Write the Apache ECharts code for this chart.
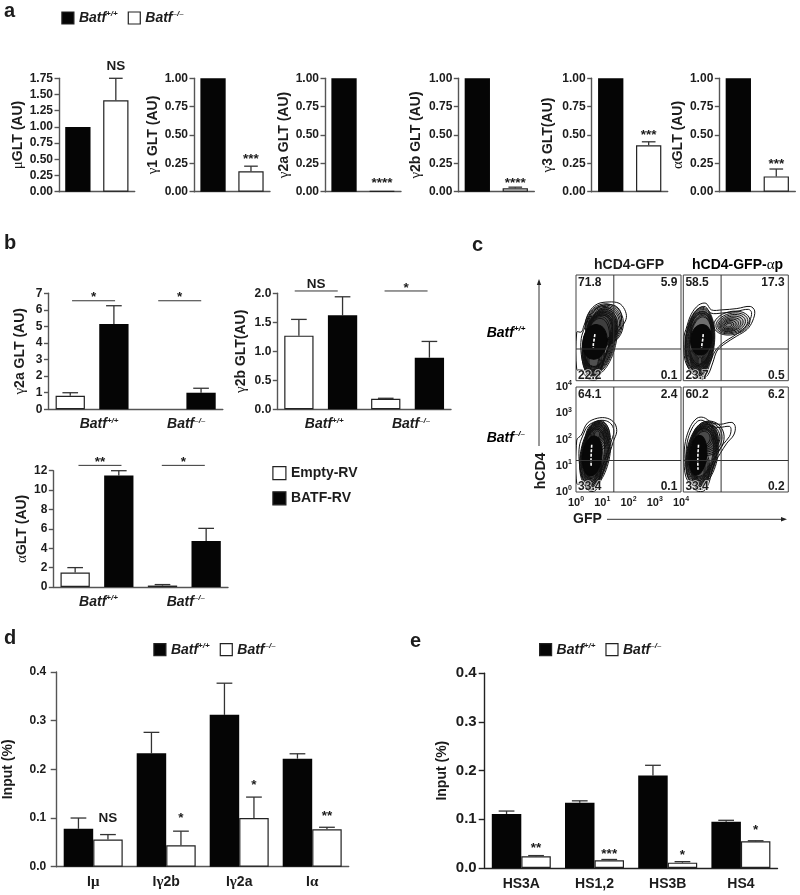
<!DOCTYPE html>
<html><head><meta charset="utf-8">
<style>html,body{margin:0;padding:0;background:#fff}#c{width:800px;height:895px}</style>
<script src="https://cdn.jsdelivr.net/npm/echarts@6/dist/echarts.min.js"></script>
</head><body><div id="c"></div>
<script>
// ---- data: panel a
const WT = 'Batf+/+', KO = 'Batf–/–', EMPTY = 'Empty-RV', BATF = 'BATF-RV';
const aTitles = [['μ','GLT (AU)'],['γ','1 GLT (AU)'],['γ','2a GLT (AU)'],['γ','2b GLT (AU)'],['γ','3 GLT(AU)'],['α','GLT (AU)']];
const aWT = [1,1,1,1,1,1];
const aKO = [1.41,0.18,0.005,0.03,0.41,0.135];
const aKOtop = [1.75,0.225,null,0.04,0.44,0.2];
const aSig = ['NS','***','****','****','***','***'];
const aSigLevel = [1.94,0.31,0.10,0.10,0.52,0.27];
const aMax = [1.75,1,1,1,1,1];
// ---- data: panel b
const bCats = [WT,KO];
const b1Empty = [0.82,null], b1Batf = [5.15,1.0], b1EmptyTop = [1.0,null], b1BatfTop = [6.25,1.27];
const b2Empty = [1.27,0.18], b2Batf = [1.62,0.89], b2EmptyTop = [1.55,0.19], b2BatfTop = [1.94,1.17];
const b3Empty = [1.5,0.15], b3Batf = [11.5,4.75], b3EmptyTop = [2.0,0.25], b3BatfTop = [12.0,6.05];
const b1Sig = ['*','*'], b2Sig = ['NS','*'], b3Sig = ['**','*'];
const b1SigLevel = [6.55,6.55], b2SigLevel = [2.04,2.04], b3SigLevel = [12.55,12.55];
// ---- data: panel c (decades of fluorescence; contours)
const cHeaders = [['hCD4-GFP','',''],['hCD4-GFP-','α','p']];
const cQuadrants = [['71.8','5.9','22.2','0.1'],['58.5','17.3','23.7','0.5'],['64.1','2.4','33.4','0.1'],['60.2','6.2','33.4','0.2']];
const cGate = [[1.44,1.20],[1.44,1.20],[1.44,1.20],[1.44,1.20]];
const cOutlinesA = [
 [[.30,2.07],[.50,2.60],[.81,2.90],[1.26,2.98],[1.64,2.93],[1.85,2.70],[1.92,2.39],[1.77,2.07],[1.51,1.75],[1.30,1.37],[1.13,.93],[.97,.42],[.81,.06],[.56,.03],[.37,.17],[.24,.42],[.03,.42],[.03,1.84],[.2,1.84]],
 [[.33,2.0],[.55,2.5],[.85,2.78],[1.25,2.88],[1.55,2.8],[1.72,2.55],[1.7,2.2],[1.5,1.85],[1.3,1.45],[1.1,.95],[.9,.35],[.72,.1],[.5,.12],[.33,.45],[.2,1.0],[.2,1.6]]];
const cNestA = [[1.08,2.12,.72,.80,18],[1.07,2.11,.68,.76,18],[1.06,2.10,.64,.72,18],[1.05,2.09,.60,.68,18],[1.03,2.07,.56,.64,18],[1.01,2.05,.53,.60,18],[.99,2.03,.50,.57,17],[.97,2.0,.47,.54,17],[.95,1.98,.44,.51,16],
 [.90,1.47,.62,1.33,13],[.89,1.48,.59,1.27,13],[.88,1.48,.57,1.22,13],[.87,1.48,.55,1.17,13],[.86,1.48,.53,1.12,12],[.85,1.48,.51,1.07,12],[.84,1.48,.49,1.02,12],[.82,1.47,.47,.97,11],[.80,1.45,.46,.92,10],
 [.70,.95,.38,.80,6],[.70,.92,.34,.73,6],[.69,.90,.30,.66,6],[.69,.87,.26,.58,6],[.68,.85,.22,.50,6],[.68,.83,.18,.42,6]];
const cCoreA = [.72,1.47,.46,.66,9];
const cStreakA = [[.72,1.76],[.69,1.55],[.66,1.38],[.66,1.24]];
const cOutlinesB = [
 [[.10,1.94],[.30,2.51],[.58,2.86],[.86,2.93],[1.07,2.68],[1.47,2.68],[2.04,2.73],[2.55,2.81],[2.72,2.64],[2.64,2.26],[2.43,1.94],[2.04,1.69],[1.54,1.37],[1.28,1.12],[1.12,.67],[.94,.23],[.71,.06],[.33,.29],[.10,.67],[.03,1.05],[.03,1.69]],
 [[.16,1.9],[.34,2.42],[.6,2.75],[.84,2.8],[1.05,2.56],[1.47,2.56],[2.0,2.62],[2.48,2.7],[2.6,2.58],[2.53,2.27],[2.33,1.98],[1.98,1.73],[1.5,1.42],[1.2,1.1],[1.03,.68],[.88,.3],[.7,.14],[.38,.38],[.17,.72],[.1,1.1],[.1,1.65]]];
const cNestB = [[1.85,2.18,.70,.44,-12],[1.85,2.17,.62,.38,-14],[1.84,2.16,.54,.33,-15],[1.82,2.15,.47,.28,-15],[1.80,2.13,.40,.24,-15],[1.78,2.12,.33,.20,-15],[1.76,2.11,.26,.16,-15],[1.74,2.10,.19,.12,-15],[1.73,2.10,.12,.07,-15],
 [.63,1.48,.56,1.30,5],[.63,1.49,.54,1.25,5],[.64,1.50,.52,1.20,5],[.64,1.50,.50,1.15,5],[.65,1.51,.48,1.10,5],[.65,1.52,.46,1.05,5],[.66,1.52,.44,1.00,6],[.66,1.52,.42,.95,6],[.67,1.52,.41,.90,6],[.68,2.0,.42,.62,8],[.68,2.0,.38,.55,8],
 [.63,.88,.35,.72,3],[.63,.86,.31,.65,3],[.63,.84,.27,.58,3],[.63,.82,.23,.50,3],[.63,.80,.19,.42,3],[.63,.78,.15,.34,3],[.63,.76,.11,.26,3],[.63,.75,.07,.16,3]];
const cCoreB = [.68,1.55,.40,.58,6];
const cStreakB = [[.76,1.76],[.74,1.55],[.71,1.38],[.70,1.24]];
const cOutlinesC = [
 [[.20,2.17],[.43,2.62],[.81,2.81],[1.19,2.81],[1.47,2.62],[1.55,2.30],[1.42,1.92],[1.30,1.54],[1.09,.97],[.88,.27],[.71,.04],[.50,.04],[.30,.29],[.03,.33],[.03,1.98]],
 [[.24,2.1],[.46,2.52],[.82,2.71],[1.15,2.71],[1.37,2.55],[1.44,2.28],[1.33,1.9],[1.2,1.5],[1.0,.95],[.82,.3],[.68,.1],[.52,.1],[.36,.33],[.2,.7],[.12,1.2],[.13,1.75]]];
const cNestC = [[.73,1.44,.56,1.30,10],[.72,1.45,.53,1.25,10],[.72,1.46,.51,1.20,10],[.72,1.47,.49,1.15,10],[.71,1.48,.47,1.10,10],[.71,1.49,.45,1.05,10],[.70,1.50,.43,1.00,10],[.69,1.50,.41,.95,9],[.68,1.50,.39,.90,9],
 [.82,2.12,.45,.58,12],[.81,2.14,.40,.51,12],[.80,2.16,.35,.45,12],[.80,2.18,.30,.39,12],[.80,2.18,.25,.33,12],[.80,2.18,.20,.27,12],[.80,2.18,.15,.21,12],[.80,2.18,.10,.15,12],
 [.65,.85,.32,.76,4],[.65,.82,.28,.68,4],[.65,.80,.24,.60,4],[.64,.78,.20,.52,4],[.64,.76,.16,.44,4],[.64,.74,.12,.34,4]];
const cCoreC = [.62,1.38,.37,.76,7];
const cStreakC = [[.6,1.8],[.58,1.5],[.57,1.2],[.58,.95]];
const cOutlinesD = [
 [[.08,1.92],[.27,2.49],[.52,2.81],[.77,2.84],[1.09,2.65],[1.41,2.58],[1.85,2.65],[1.98,2.49],[1.92,2.17],[1.66,1.86],[1.41,1.47],[1.16,1.03],[.97,.33],[.78,.04],[.52,.04],[.27,.27],[.08,.65],[.03,1.28]],
 [[.15,1.9],[.32,2.4],[.55,2.7],[.76,2.72],[1.05,2.52],[1.36,2.46],[1.76,2.5],[1.82,2.38],[1.76,2.12],[1.52,1.82],[1.3,1.45],[1.07,1.0],[.9,.33],[.74,.12],[.54,.12],[.32,.33],[.14,.7],[.1,1.3]]];
const cNestD = [[.72,1.44,.60,1.26,10],[.71,1.45,.57,1.21,10],[.71,1.46,.55,1.16,10],[.71,1.47,.53,1.11,10],[.70,1.48,.51,1.06,10],[.70,1.49,.49,1.01,10],[.69,1.49,.47,.96,10],[.68,1.50,.45,.92,9],
 [.95,2.05,.60,.66,18],[.93,2.05,.54,.60,18],[.90,2.05,.49,.53,17],[.88,2.05,.44,.47,16],[.85,2.05,.39,.42,15],[.82,2.05,.34,.36,15],[.80,2.05,.29,.31,15],[.78,2.05,.24,.26,15],
 [.66,.85,.34,.74,4],[.66,.82,.30,.66,4],[.66,.80,.26,.58,4],[.65,.78,.22,.50,4],[.65,.76,.18,.42,4],[.65,.75,.14,.32,4]];
const cCoreD = [.56,1.4,.33,.76,6];
const cStreakD = [[.58,1.8],[.56,1.5],[.55,1.2],[.56,.85]];
// ---- data: panel d
const dCats = ['Iμ','Iγ2b','Iγ2a','Iα'];
const dWT = [0.078,0.233,0.312,0.222], dKO = [0.056,0.044,0.1,0.077];
const dWTtop = [0.1,0.276,0.377,0.232], dKOtop = [0.066,0.073,0.143,0.081];
const dSig = ['NS','*','*','**'], dSigLevel = [0.1,0.106,0.173,0.11];
// ---- data: panel e
const eCats = ['HS3A','HS1,2','HS3B','HS4'];
const eWT = [0.111,0.134,0.19,0.095], eKO = [0.024,0.016,0.011,0.055];
const eWTtop = [0.117,0.138,0.211,0.098], eKOtop = [0.0255,0.0175,0.013,0.056];
const eSig = ['**','***','*','*'], eSigLevel = [0.047,0.035,0.032,0.084];

// ---- options
const SANS = '"Liberation Sans", Arial, sans-serif', SERIF = '"Liberation Serif", serif';
const INK = '#1c1c1c', BLACK = '#050505', WHITE = '#ffffff', EDGE = '#222';
const grid = [], xAxis = [], yAxis = [], series = [];

function genotypeRich(size, sup) {
  return {
    b:{fontFamily:SANS,fontWeight:'bold',fontStyle:'italic',fontSize:size,color:INK,lineHeight:size+2},
    s:{fontFamily:SANS,fontWeight:'bold',fontStyle:'italic',fontSize:sup,color:INK,verticalAlign:'top',lineHeight:size+2}
  };
}
function genotype(n) { return '{b|Batf}{s|' + n.slice(4) + '}'; }
function greekRich(size) {
  return {
    g:{fontFamily:SERIF,fontSize:size+1,color:INK},
    t:{fontFamily:SANS,fontWeight:'bold',fontSize:size,color:INK}
  };
}

function barPanel(c) {
  const i = grid.length;
  grid.push({left:c.box[0],top:c.box[1],width:c.box[2]-c.box[0],height:c.box[3]-c.box[1],containLabel:false});
  xAxis.push({gridIndex:i,type:'category',data:c.cats,
    axisLine:{lineStyle:{color:c.axis||'#555',width:1.4}},axisTick:{show:false},
    axisLabel:Object.assign({interval:0,hideOverlap:false},c.catLabel||{show:false})});
  yAxis.push({gridIndex:i,type:'value',min:0,max:c.max,interval:c.interval,splitLine:{show:false},
    name:'{g|'+c.title[0]+'}{t|'+c.title[1]+'}',nameLocation:'middle',nameGap:c.nameGap,
    nameTextStyle:{rich:greekRich(c.nameSize||14),color:INK},
    axisLine:{show:true,lineStyle:{color:c.axis||'#555',width:1.4}},
    axisTick:{show:true,length:c.tick||4.5,lineStyle:{color:c.axis||'#555',width:1.4}},
    axisLabel:{margin:c.labelMargin||6,fontFamily:SANS,fontWeight:'bold',fontSize:c.labelSize||12,color:INK,
      formatter:v=>v.toFixed(c.dec)}});
  const w=c.barW, gap=c.gap, off=w*(1+gap)/2;
  c.vals.forEach((vals,k)=>{
    series.push({type:'bar',name:c.names[k],xAxisIndex:i,yAxisIndex:i,data:vals,barWidth:w,barGap:(gap*100)+'%',
      itemStyle:{color:k?c.fills[1]:c.fills[0],borderColor:EDGE,borderWidth:c.fills[k]===WHITE?1.2:0},
      silent:true,animation:false});
  });
  // error whiskers
  const rows=[];
  c.tops.forEach((tops,k)=>tops.forEach((t,j)=>{ if(t!=null) rows.push([j,t,c.vals[k][j],k?1:-1]); }));
  series.push({type:'custom',xAxisIndex:i,yAxisIndex:i,silent:true,clip:false,animation:false,data:rows,z:1,
    encode:{x:0,y:1},
    renderItem:(p,api)=>{
      const x=api.coord([api.value(0),0])[0]+api.value(3)*off;
      const yT=api.coord([0,api.value(1)])[1], yB=api.coord([0,api.value(2)])[1];
      const cap=w/4+0.5, st={stroke:'#333',lineWidth:1.3,fill:null};
      return {type:'group',children:[
        {type:'line',shape:{x1:x,y1:yB,x2:x,y2:yT},style:st},
        {type:'line',shape:{x1:x-cap,y1:yT,x2:x+cap,y2:yT},style:st}]};
    }});
  // significance marks
  const sr=c.sig.map((s,j)=>[j,c.sigLevel[j]]);
  series.push({type:'custom',xAxisIndex:i,yAxisIndex:i,silent:true,clip:false,animation:false,data:sr,z:3,
    encode:{x:0,y:1},
    renderItem:(p,api)=>{
      const s=c.sig[p.dataIndex];
      const cx=api.coord([api.value(0),0])[0], y=api.coord([0,api.value(1)])[1];
      const star=s[0]==='*', kids=[];
      if(c.bracket){
        const xc=cx+c.bracket.dx[p.dataIndex];
        kids.push({type:'line',shape:{x1:xc-21.5,y1:y,x2:xc+21.5,y2:y},style:{stroke:'#333',lineWidth:1}});
        kids.push({type:'text',x:xc,y:y-(star?3:7),style:{text:s,align:'center',verticalAlign:'middle',font:'bold 13.5px '+SANS,fill:INK}});
      } else {
        kids.push({type:'text',x:cx+off,y:y+(star?3:0),style:{text:s,align:'center',verticalAlign:'middle',font:'bold 13.5px '+SANS,fill:INK}});
      }
      return {type:'group',children:kids};
    }});
}

// panel a
const aBoxes = [[59,78.3,134.7],[194,78.3,270],[325,78.3,401],[458.3,78.3,534.3],[591.7,78.3,667.7],[719.3,78.3,795.3]];
const aGaps = [33,33,33,35,35.7,29];
aTitles.forEach((t,n)=>barPanel({box:[aBoxes[n][0],78.3,aBoxes[n][2],191.7],cats:['GLT'],names:[WT,KO],fills:[BLACK,WHITE],
  vals:[[aWT[n]],[aKO[n]]],tops:[[null],[aKOtop[n]]],max:aMax[n],interval:.25,dec:2,title:t,nameGap:aGaps[n],barW:25.3,gap:.5,
  sig:[aSig[n]],sigLevel:[aSigLevel[n]]}));

// panel b
const genoLabel = (pad)=>({margin:7,padding:[0,0,0,pad],formatter:genotype,rich:genotypeRich(14,8)});
const bFills=[WHITE,BLACK], bNames=[EMPTY,BATF];
barPanel({box:[48.5,293.3,222.8,409.3],cats:bCats,names:bNames,fills:bFills,vals:[b1Empty,b1Batf],tops:[b1EmptyTop,b1BatfTop],
  max:7,interval:1,dec:0,title:['γ','2a GLT (AU)'],nameGap:21,barW:29.3,gap:.49,sig:b1Sig,sigLevel:b1SigLevel,
  bracket:{dx:[1.5,0.5]},catLabel:genoLabel(14)});
barPanel({box:[277.3,293.3,451,409.3],cats:bCats,names:bNames,fills:bFills,vals:[b2Empty,b2Batf],tops:[b2EmptyTop,b2BatfTop],
  max:2,interval:.5,dec:1,title:['γ','2b GLT(AU)'],nameGap:29,barW:29.3,gap:.49,sig:b2Sig,sigLevel:b2SigLevel,
  bracket:{dx:[-4.5,-1.5]},catLabel:genoLabel(7)});
barPanel({box:[53.3,470.7,228,587],cats:bCats,names:bNames,fills:bFills,vals:[b3Empty,b3Batf],tops:[b3EmptyTop,b3BatfTop],
  max:12,interval:2,dec:0,title:['α','GLT (AU)'],nameGap:23,barW:29.3,gap:.49,sig:b3Sig,sigLevel:b3SigLevel,
  bracket:{dx:[3,-1]},catLabel:genoLabel(3)});

// panel d
barPanel({box:[55.7,672,348.7,866.7],cats:dCats,names:[WT,KO],fills:[BLACK,WHITE],vals:[dWT,dKO],tops:[dWTtop,dKOtop],
  max:.4,interval:.1,dec:1,title:['','Input (%)'],nameGap:40.7,barW:29.5,gap:0,sig:dSig,sigLevel:dSigLevel,tick:6,labelMargin:10.5,
  catLabel:{margin:8,fontFamily:SANS,fontWeight:'bold',fontSize:14,color:INK,
    formatter:v=>'{t|I}{g|'+v.slice(1).replace(/[0-9a-z]+$/,'')+'}{t|'+(v.match(/[0-9a-z]+$/)||[''])[0]+'}',rich:greekRich(14)}});
// panel e
barPanel({box:[484.7,673.3,777.5,868],cats:eCats,names:[WT,KO],fills:[BLACK,WHITE],vals:[eWT,eKO],tops:[eWTtop,eKOtop],
  max:.4,interval:.1,dec:1,title:['','Input (%)'],nameGap:35.3,barW:29.5,gap:0,sig:eSig,sigLevel:eSigLevel,tick:6,axis:'#222',
  labelSize:15,labelMargin:8,catLabel:{margin:9,fontFamily:SANS,fontWeight:'bold',fontSize:14,color:INK}});

// panel c
const cBoxes=[[576,275,681,380.7],[683.3,275,788.3,380.7],[576,387,681,492],[683.3,387,788.3,492]];
const cPanels=[[cOutlinesA,cNestA,cCoreA,cStreakA],[cOutlinesB,cNestB,cCoreB,cStreakB],[cOutlinesC,cNestC,cCoreC,cStreakC],[cOutlinesD,cNestD,cCoreD,cStreakD]];
const decadeLabel={fontFamily:SANS,color:INK,formatter:v=>'{b|10}{s|'+v+'}',
  rich:{b:{fontFamily:SANS,fontWeight:'bold',fontSize:11,color:INK,lineHeight:14},s:{fontFamily:SANS,fontWeight:'bold',fontSize:7,color:INK,verticalAlign:'top',lineHeight:14}}};
cBoxes.forEach((b,n)=>{
  const i=grid.length;
  grid.push({left:b[0],top:b[1],width:b[2]-b[0],height:b[3]-b[1],show:true,borderColor:'#444',borderWidth:1,containLabel:false});
  xAxis.push({gridIndex:i,type:'value',min:0,max:4,interval:1,splitLine:{show:false},axisLine:{show:false},axisTick:{show:false},
    axisLabel:n===2?{...decadeLabel,margin:4}:{show:false}});
  yAxis.push({gridIndex:i,type:'value',min:0,max:4,interval:1,splitLine:{show:false},axisLine:{show:false},axisTick:{show:false},
    axisLabel:n===2?{...decadeLabel,margin:4}:{show:false}});
  const [outl,nest,core,streak]=cPanels[n];
  const shapes=[];
  outl.forEach(o=>shapes.push({k:'poly',o}));
  nest.forEach(e=>shapes.push({k:'ell',e}));
  shapes.push({k:'core',e:core});
  shapes.push({k:'streak',o:streak});
  shapes.push({k:'seg',o:[[cGate[n][0],0],[cGate[n][0],4]]});
  shapes.push({k:'seg',o:[[0,cGate[n][1]],[4,cGate[n][1]]]});
  series.push({type:'custom',xAxisIndex:i,yAxisIndex:i,silent:true,clip:true,animation:false,z:2,
    data:shapes.map((_,j)=>[j,0]),encode:{x:0,y:1},
    renderItem:(p,api)=>{
      const s=shapes[p.dataIndex];
      const xy=q=>api.coord(q);
      if(s.k==='poly') return {type:'polygon',shape:{points:s.o.map(xy),smooth:.35},style:{fill:'rgba(255,255,255,0)',stroke:'#111',lineWidth:1}};
      if(s.k==='streak') return {type:'polyline',shape:{points:s.o.map(xy)},style:{fill:null,stroke:'#fff',lineWidth:1.6,lineDash:[3,1.5]}};
      if(s.k==='seg') return {type:'polyline',shape:{points:s.o.map(xy)},style:{fill:null,stroke:'#333',lineWidth:1}};
      const [cx,cy,rx,ry,tilt]=s.e, c=api.coord([cx,cy]), sz=api.size([1,1]);
      return {type:'ellipse',x:c[0],y:c[1],rotation:-tilt*Math.PI/180,shape:{cx:0,cy:0,rx:rx*sz[0],ry:ry*sz[1]},
        style:s.k==='core'?{fill:'#080808',stroke:'#080808',lineWidth:1}:{fill:'rgba(0,0,0,.07)',stroke:'#111',lineWidth:.9}};
    }});
  const q=cQuadrants[n];
  const qRows=[[.08,3.70,q[0],'left'],[3.86,3.70,q[1],'right'],[.08,.19,q[2],'left'],[3.86,.19,q[3],'right']];
  series.push({type:'custom',xAxisIndex:i,yAxisIndex:i,silent:true,animation:false,z:4,
    data:qRows.map(r=>[r[0],r[1]]),encode:{x:0,y:1},
    renderItem:(p,api)=>{
      const c=api.coord([api.value(0),api.value(1)]), r=qRows[p.dataIndex];
      return {type:'text',x:c[0],y:c[1],style:{text:r[2],align:r[3],verticalAlign:'middle',font:'bold 12px '+SANS,fill:INK,stroke:'rgba(255,255,255,.75)',lineWidth:1.6}};
    }});
});

// free annotations
const txt=(text,x,y,font,extra)=>Object.assign({type:'text',x,y,style:Object.assign({text,font,fill:INK,align:'left',verticalAlign:'middle'},extra&&extra.style)},extra&&extra.el);
const HEAD='bold 20px '+SANS, LAB='bold 14px '+SANS;
const panelLetters=[['a',4,11],['b',4,243],['c',472,245],['d',4,638],['e',410,641]];
const graphic=[];
panelLetters.forEach(l=>graphic.push(txt(l[0],l[1],l[2],HEAD)));
graphic.push(txt(cHeaders[0][0],629,265,LAB,{style:{align:'center'}}));
graphic.push({type:'text',x:737.5,y:265,style:{text:'{t|'+cHeaders[1][0]+'}{g|'+cHeaders[1][1]+'}{t|'+cHeaders[1][2]+'}',align:'center',verticalAlign:'middle',rich:greekRich(14)}});
graphic.push({type:'text',x:486.7,y:333,style:{text:genotype(WT),rich:genotypeRich(14,8),verticalAlign:'middle'}});
graphic.push({type:'text',x:486.7,y:438,style:{text:genotype(KO),rich:genotypeRich(14,8),verticalAlign:'middle'}});
graphic.push({type:'text',x:540.7,y:471,rotation:Math.PI/2,style:{text:'hCD4',font:LAB,fill:INK,align:'center',verticalAlign:'middle'}});
graphic.push(txt('GFP',573,519,LAB));
const arrow={stroke:'#333',lineWidth:1};
graphic.push({type:'line',shape:{x1:539,y1:446,x2:539,y2:283},style:arrow});
graphic.push({type:'polygon',shape:{points:[[539,279],[536.8,285],[541.2,285]]},style:{fill:'#222'}});
graphic.push({type:'line',shape:{x1:607,y1:519.3,x2:783,y2:519.3},style:arrow});
graphic.push({type:'polygon',shape:{points:[[787,519.3],[781,517.1],[781,521.5]]},style:{fill:'#222'}});

const legendBase={selectedMode:false,icon:'rect',itemWidth:12,itemHeight:12,
  itemStyle:{borderColor:'#222',borderWidth:1.2},padding:0,
  formatter:genotype,textStyle:{rich:genotypeRich(14,8)}};
const legend=[
  {...legendBase,data:[WT,KO],left:61.3,top:10,itemGap:10},
  {...legendBase,data:[WT,KO],left:153.3,top:641.7,itemGap:10},
  {...legendBase,data:[WT,KO],left:539,top:641.7,itemGap:10},
  {selectedMode:false,icon:'rect',itemWidth:13,itemHeight:13,itemStyle:{borderColor:'#222',borderWidth:1.2},padding:0,
   orient:'vertical',data:[EMPTY,BATF],left:272.3,top:466,itemGap:11,
   textStyle:{fontFamily:SANS,fontWeight:'bold',fontSize:14,color:INK}}
];

const chart=echarts.init(document.getElementById('c'),null,{renderer:'canvas',width:800,height:895});
chart.setOption({backgroundColor:'#fff',animation:false,textStyle:{fontFamily:SANS},grid,xAxis,yAxis,series,legend,graphic:{elements:graphic}});
</script></body></html>
